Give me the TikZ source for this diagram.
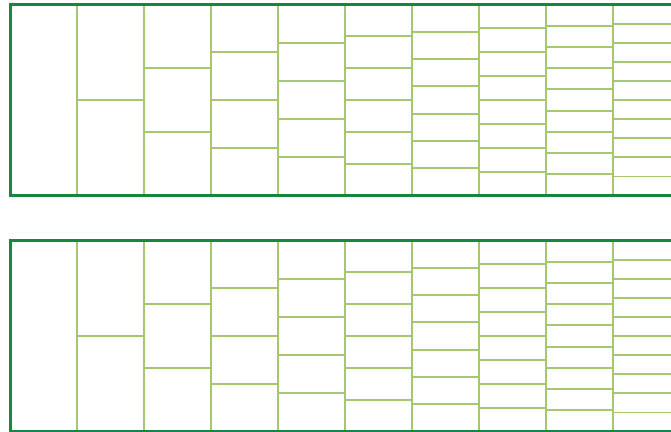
\documentclass[tikz,border=0pt]{standalone}
\definecolor{framegreen}{RGB}{20,135,65}
\definecolor{dividergreen}{RGB}{166,198,112}
\begin{document}
\begin{tikzpicture}[x=1pt,y=-1pt,
  framebox/.style={draw=framegreen,line width=3pt},
  divline/.style={draw=dividergreen,line width=1.8pt}]
\useasboundingbox[fill=white] (0,0) rectangle (671,431);
\foreach \ya in {4.5,240.5}{
  \pgfmathsetmacro\yb{\ya+191}
  \foreach \n in {2,...,10}{
    \pgfmathsetmacro\xl{10.3+67*(\n-1)}
    \pgfmathsetmacro\xr{\xl+67}
    \pgfmathtruncatemacro\m{\n-1}
    \draw[divline] (\xl,\ya) -- (\xl,\yb);
    \foreach \j in {1,...,\m}{
      \pgfmathsetmacro\yy{\ya+191*\j/\n}
      \draw[divline] (\xl,\yy) -- (\xr,\yy);
    }
  }
  \draw[framebox] (10.3,\ya) rectangle (680.3,\yb);
}
\end{tikzpicture}
\end{document}
